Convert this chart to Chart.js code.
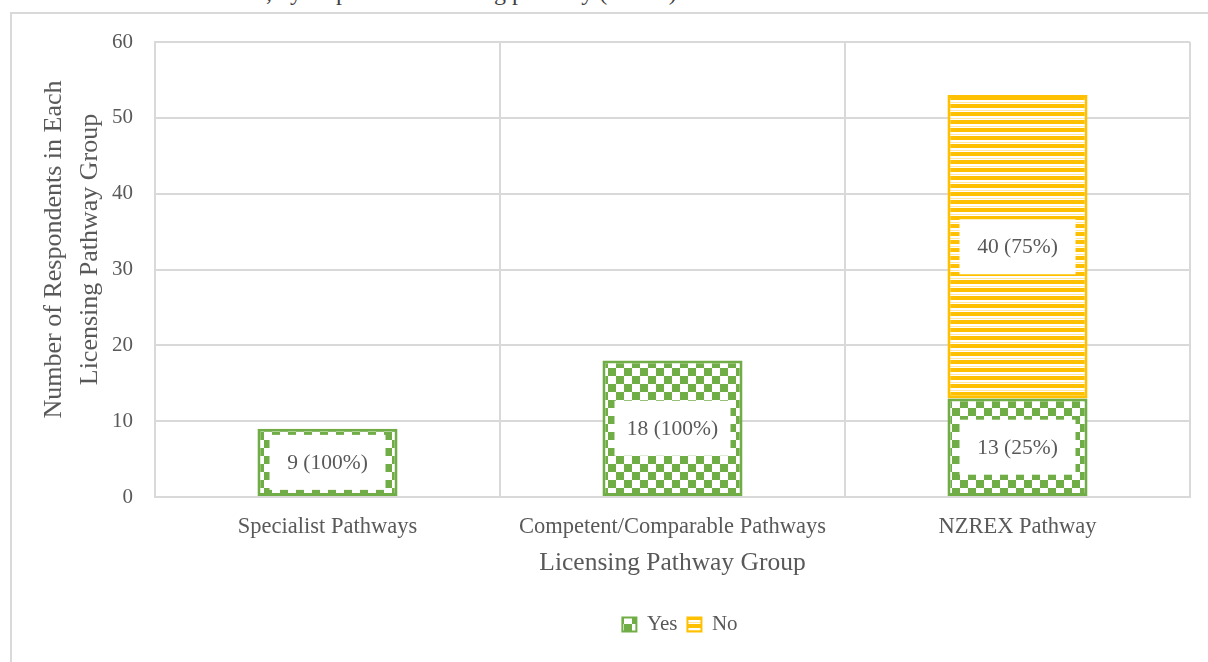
<!DOCTYPE html>
<html><head><meta charset="utf-8">
<script src="https://cdn.jsdelivr.net/npm/chart.js@4/dist/chart.umd.min.js"></script>
<style>
html,body{margin:0;padding:0;width:1208px;height:662px;overflow:hidden;background:#fff;}
#frame{position:absolute;left:10px;top:12px;width:1400px;height:900px;border-left:2px solid #d9d9d9;border-top:2px solid #d9d9d9;}
#cap{position:absolute;left:266px;top:-20px;font:24px/24px "Liberation Serif",serif;color:#404040;white-space:nowrap;}
#wrap{position:absolute;left:0;top:0;width:1208px;height:662px;}
</style></head><body>
<div id="frame"></div>
<div id="cap">, by respondent licensing pathway (n = 80)</div>
<div id="wrap"><canvas id="c" width="1208" height="662"></canvas></div>
<script>
const categories = ['Specialist Pathways', 'Competent/Comparable Pathways', 'NZREX Pathway'];
const seriesNames = ['Yes', 'No'];
const yesValues = [9, 18, 13];
const noValues = [null, null, 40];
const yesLabels = ['9 (100%)', '18 (100%)', '13 (25%)'];
const noLabels = [null, null, '40 (75%)'];
const yTicks = [0, 10, 20, 30, 40, 50, 60];
const yTitle = ['Number of Respondents in Each', 'Licensing Pathway Group'];
const xTitle = 'Licensing Pathway Group';

const GREEN = '#70AD47', YELLOW = '#FFC000', TXT = '#595959', GRID = '#d9d9d9';
const FONT = '"Liberation Serif", "Times New Roman", serif';

const canvas = document.getElementById('c');
const ctx = canvas.getContext('2d');

function checker(color, cell) {
  const t = document.createElement('canvas');
  t.width = t.height = cell * 2;
  const x = t.getContext('2d');
  x.fillStyle = '#fff'; x.fillRect(0, 0, cell * 2, cell * 2);
  x.fillStyle = color; x.fillRect(0, 0, cell, cell); x.fillRect(cell, cell, cell, cell);
  return ctx.createPattern(t, 'repeat');
}
function stripes(color) {
  const t = document.createElement('canvas');
  t.width = 8; t.height = 8;
  const x = t.getContext('2d');
  x.fillStyle = '#fff'; x.fillRect(0, 0, 8, 8);
  x.fillStyle = color; x.fillRect(0, 0, 8, 4);
  x.fillStyle = '#ffe7a0'; x.fillRect(0, 6, 8, 1);
  return ctx.createPattern(t, 'repeat');
}

const labelPlugin = {
  id: 'barLabels',
  afterDatasetsDraw(chart) {
    const c = chart.ctx;
    const allLabels = [yesLabels, noLabels];
    chart.data.datasets.forEach((ds, di) => {
      const meta = chart.getDatasetMeta(di);
      meta.data.forEach((el, i) => {
        const txt = allLabels[di][i];
        if (!txt || ds.data[i] == null) return;
        const p = el.getProps(['x', 'y', 'base'], true);
        const cy = (p.y + p.base) / 2;
        const w = 116, h = 55;
        c.save();
        c.fillStyle = '#fff';
        c.fillRect(p.x - w / 2, cy - h / 2, w, h);
        c.font = '21.5px ' + FONT;
        c.fillStyle = TXT;
        c.textAlign = 'center';
        c.textBaseline = 'middle';
        c.fillText(txt, p.x, cy + 1);
        c.restore();
      });
    });
  }
};

const tweakPlugin = {
  id: 'tweak',
  afterLayout(chart) {
    const lg = chart.legend;
    if (lg) {
      const shift = 680 - (lg.left + lg.right) / 2;
      lg.left += shift; lg.right += shift;
    }
    const s = chart.scales.y;
    if (!s._patched) {
      const orig = s.drawTitle;
      s.drawTitle = function () {
        this.top -= 20; this.bottom -= 20;
        orig.apply(this, arguments);
        this.top += 20; this.bottom += 20;
      };
      s._patched = true;
    }
  }
};

Chart.defaults.font.family = FONT;
Chart.defaults.color = TXT;

new Chart(ctx, {
  type: 'bar',
  data: {
    labels: categories,
    datasets: [
      { label: seriesNames[0], data: yesValues, backgroundColor: checker(GREEN, 8), borderColor: GREEN, borderWidth: 3, borderSkipped: false },
      { label: seriesNames[1], data: noValues, backgroundColor: stripes(YELLOW), borderColor: YELLOW, borderWidth: 3, borderSkipped: false }
    ]
  },
  options: {
    responsive: false,
    animation: false,
    datasets: { bar: { barPercentage: 1, categoryPercentage: 0.406 } },
    layout: { padding: { left: 0, top: 42, right: 18, bottom: 17 } },
    plugins: {
      tooltip: { enabled: false },
      legend: {
        position: 'bottom',
        labels: {
          font: { size: 21 },
          color: TXT,
          boxWidth: 14, boxHeight: 14,
          padding: 10,
          generateLabels(chart) {
            const items = Chart.defaults.plugins.legend.labels.generateLabels(chart);
            items.forEach(it => { it.lineWidth = 2; });
            return items;
          }
        }
      }
    },
    scales: {
      x: {
        stacked: true,
        grid: { color: GRID, lineWidth: 2, drawTicks: false, offset: true },
        border: { color: GRID, width: 2 },
        ticks: { font: { size: 22.5 }, color: TXT, padding: 17, maxRotation: 0 },
        title: { display: true, text: xTitle, font: { size: 25.5 }, color: TXT, padding: { top: 0, bottom: 25 } },
        afterFit(scale) { scale.height = 107; }
      },
      y: {
        stacked: true,
        min: 0, max: 60,
        grid: { color: GRID, lineWidth: 2, drawTicks: false },
        border: { color: GRID, width: 2 },
        ticks: { font: { size: 21 }, color: TXT, padding: 22, stepSize: 10 },
        afterBuildTicks(scale) { scale.ticks = yTicks.map(v => ({ value: v })); },
        title: { display: true, text: yTitle, font: { size: 26, lineHeight: 1.38 }, color: TXT, padding: { top: 36, bottom: 0 } },
        afterFit(scale) { scale.width = 155; }
      }
    }
  },
  plugins: [labelPlugin, tweakPlugin]
});
</script>
</body></html>
